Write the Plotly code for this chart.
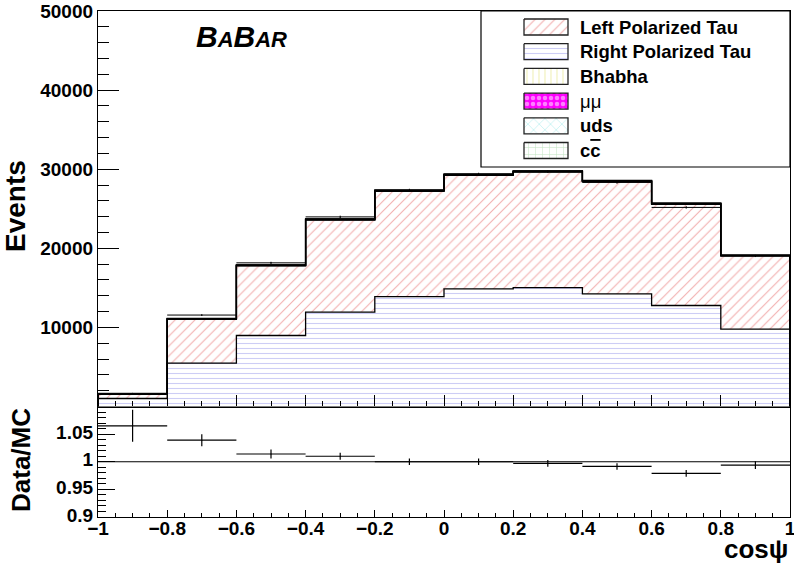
import numpy as np
import plotly.graph_objects as go

# ---------------- data ----------------
bin_edges = [-1.0, -0.8, -0.6, -0.4, -0.2, 0.0, 0.2, 0.4, 0.6, 0.8, 1.0]
right_tau = [1010, 5490, 8975, 11930, 13900, 14880, 15040, 14250, 12770, 9790]
left_tau = [535, 5525, 8795, 11645, 13305, 14345, 14605, 14165, 12800, 9240]
bhabha = [5, 25, 30, 35, 35, 35, 35, 35, 30, 25]
mumu = [10, 40, 50, 55, 55, 55, 55, 55, 50, 40]
uds = [8, 35, 45, 50, 50, 50, 50, 50, 45, 35]
ccbar = [2, 10, 15, 15, 15, 15, 15, 15, 15, 10]
data = [1670, 11560, 18160, 23970, 27360, 29380, 29710, 28330, 25170, 19030]
data_err = [41, 108, 135, 155, 165, 171, 172, 168, 159, 138]
ratio = [1.065, 1.039, 1.014, 1.010, 1.000, 1.000, 0.997, 0.9915, 0.979, 0.994]
ratio_err = [0.029, 0.011, 0.008, 0.0065, 0.006, 0.006, 0.006, 0.006, 0.006, 0.007]
legend_labels = ["Left Polarized Tau", "Right Polarized Tau", "Bhabha", "μμ", "uds",
                 "c<span style='text-decoration:overline'>c</span>"]
events_ticks = [10000, 20000, 30000, 40000, 50000]
events_ticktext = ["10000", "20000", "30000", "40000", "50000"]
ratio_ticks = [0.9, 0.95, 1, 1.05]
ratio_ticktext = ["0.9", "0.95", "1", "1.05"]

# ---------------- geometry (pixels) ----------------
W, H = 794, 563
L, R, T, B = 98, 790, 11, 517
SPLIT = 406.5
split = (B - SPLIT) / (B - T)


def px(xp):
    return (xp - L) / (R - L)


def py(yp):
    return (B - yp) / (B - T)


edges = np.array(bin_edges)
centers = (edges[:-1] + edges[1:]) / 2
widths = np.diff(edges)
half = widths / 2

FONT = "Liberation Sans"

# styles for each component (bottom to top of stack)
styles = {
    "right": dict(shape="-", fgcolor="#9c9cec", bgcolor="white", size=5, solidity=0.22),
    "left": dict(shape="/", fgcolor="#e46060", bgcolor="white", size=7, solidity=0.16),
    "bhabha": dict(shape="|", fgcolor="#e2e27a", bgcolor="white", size=6, solidity=0.2),
    "mumu": dict(shape=".", fgcolor="white", bgcolor="#ff00ff", size=6, solidity=0.45),
    "uds": dict(shape="x", fgcolor="#66dede", bgcolor="white", size=8, solidity=0.15),
    "ccbar": dict(shape="+", fgcolor="#88cc88", bgcolor="white", size=7, solidity=0.15),
}

stack = [("right", right_tau), ("left", left_tau), ("bhabha", bhabha),
         ("mumu", mumu), ("uds", uds), ("ccbar", ccbar)]

fig = go.Figure()

# stacked bars
for name, vals in stack:
    fig.add_trace(go.Bar(
        x=centers, y=vals, width=widths, xaxis="x2", yaxis="y2",
        marker=dict(color="white", line=dict(width=0), pattern=styles[name]),
        showlegend=False, hoverinfo="skip"))

# step outlines of cumulative stack
cum = np.zeros(len(centers))
for name, vals in stack:
    cum = cum + np.array(vals)
    xs = [edges[0]] + list(edges[:-1]) + [edges[-1], edges[-1]]
    ys = [0] + list(cum) + [cum[-1], 0]
    fig.add_trace(go.Scatter(
        x=xs, y=ys, mode="lines", line=dict(color="black", width=1.3, shape="hv"),
        xaxis="x2", yaxis="y2", showlegend=False, hoverinfo="skip"))

# data points
fig.add_trace(go.Scatter(
    x=centers, y=data, mode="markers", marker=dict(size=1, color="black"),
    error_x=dict(type="data", array=half, width=0, thickness=1, color="black"),
    error_y=dict(type="data", array=data_err, width=0, thickness=1, color="black"),
    xaxis="x2", yaxis="y2", showlegend=False, hoverinfo="skip"))

# ratio points
fig.add_trace(go.Scatter(
    x=centers, y=ratio, mode="markers", marker=dict(size=1, color="black"),
    error_x=dict(type="data", array=half, width=0, thickness=1.2, color="black"),
    error_y=dict(type="data", array=ratio_err, width=0, thickness=1.2, color="black"),
    xaxis="x", yaxis="y", showlegend=False, hoverinfo="skip"))

# legend swatches (on pixel overlay axis)
legend_order = ["left", "right", "bhabha", "mumu", "uds", "ccbar"]
row0, drow = 27, 24.7
annotations = []
for i, (key, lab) in enumerate(zip(legend_order, legend_labels)):
    yc = row0 + i * drow
    x0, x1, y0, y1 = 524, 568, yc - 8, yc + 8
    fig.add_trace(go.Scatter(
        x=[x0, x1, x1, x0, x0], y=[y0, y0, y1, y1, y0], mode="lines",
        fill="toself", fillcolor="white", fillpattern=styles[key],
        line=dict(color="#222222", width=1.3),
        xaxis="x3", yaxis="y3", showlegend=False, hoverinfo="skip"))
    annotations.append(dict(
        x=578, y=yc, xref="x3", yref="y3", text=lab, showarrow=False,
        xanchor="left", yanchor="middle",
        font=dict(family=FONT, size=18.5, color="black",
                  weight="normal" if key == "mumu" else "bold")))

# BABAR logo
annotations.append(dict(
    x=px(194), y=py(36), xref="paper", yref="paper", showarrow=False,
    xanchor="left", yanchor="middle",
    text="<b><i>B<span style='font-size:22px'>A</span>B<span style='font-size:22px'>AR</span></i></b>",
    font=dict(family=FONT, size=30, color="black")))

# axis titles
annotations.append(dict(
    x=px(15), y=py(206), xref="paper", yref="paper", showarrow=False,
    text="Events", textangle=-90, xanchor="center", yanchor="middle",
    font=dict(family=FONT, size=28, color="black", weight="bold")))
annotations.append(dict(
    x=px(21), y=py(460), xref="paper", yref="paper", showarrow=False,
    text="Data/MC", textangle=-90, xanchor="center", yanchor="middle",
    font=dict(family=FONT, size=26, color="black", weight="bold")))
annotations.append(dict(
    x=px(790), y=py(549), xref="paper", yref="paper", showarrow=False,
    text="cosψ", xanchor="right", yanchor="middle",
    font=dict(family=FONT, size=26, color="black", weight="bold")))

shapes = [
    dict(type="line", xref="x", yref="y", x0=edges[0], x1=edges[-1], y0=1, y1=1,
         line=dict(color="black", width=1.2)),
    dict(type="rect", xref="paper", yref="paper", x0=px(481), x1=1.0, y0=py(167), y1=1.0,
         line=dict(color="black", width=1.2), fillcolor="rgba(0,0,0,0)"),
]

tickfont = dict(family=FONT, size=19, color="black", weight="bold")
common_ax = dict(showline=True, linecolor="black", linewidth=1.3, mirror=True,
                 showgrid=False, zeroline=False, tickcolor="black", tickwidth=1,
                 automargin=False, ticklabeloverflow="allow")

fig.update_layout(
    width=W, height=H,
    margin=dict(l=L, r=W - R, t=T, b=H - B, autoexpand=False),
    paper_bgcolor="white", plot_bgcolor="white",
    barmode="stack", bargap=0,
    showlegend=False,
    xaxis=dict(domain=[0, 1], anchor="y", range=[-1, 1], tickmode="linear", tick0=-1, dtick=0.2,
               ticks="inside", ticklen=7, tickfont=tickfont, ticklabelstandoff=-6,
               minor=dict(ticks="inside", ticklen=3.5, tickmode="linear", tick0=-1, dtick=0.05,
                          tickcolor="black", showgrid=False),
               **common_ax),
    yaxis=dict(domain=[0, split], anchor="x", range=[0.9, 1.1], tickmode="array",
               tickvals=ratio_ticks, ticktext=ratio_ticktext, ticklabelshift=-2,
               ticks="inside", ticklen=17, tickfont=tickfont,
               minor=dict(ticks="inside", ticklen=8, tickmode="linear", tick0=0.9, dtick=0.01,
                          tickcolor="black", showgrid=False),
               **common_ax),
    xaxis2=dict(domain=[0, 1], anchor="y2", matches="x", range=[-1, 1], tickmode="linear",
                tick0=-1, dtick=0.2, showticklabels=False, ticks="inside", ticklen=11,
                minor=dict(ticks="inside", ticklen=5, tickmode="linear", tick0=-1, dtick=0.05,
                           tickcolor="black", showgrid=False),
                **common_ax),
    yaxis2=dict(domain=[split, 1], anchor="x2", range=[0, 50000], tickmode="array",
                tickvals=events_ticks, ticktext=events_ticktext,
                ticks="inside", ticklen=21, tickfont=tickfont,
                minor=dict(ticks="inside", ticklen=11, tickmode="linear", tick0=0, dtick=2000,
                           tickcolor="black", showgrid=False),
                **common_ax),
    xaxis3=dict(overlaying="x2", anchor="y3", range=[L, R], visible=False),
    yaxis3=dict(overlaying="y2", anchor="x3", range=[SPLIT, T], visible=False),
    annotations=annotations,
    shapes=shapes,
)

fig.write_html("out.html", config={"displayModeBar": False},
               post_script="document.body.style.margin='0px';")
